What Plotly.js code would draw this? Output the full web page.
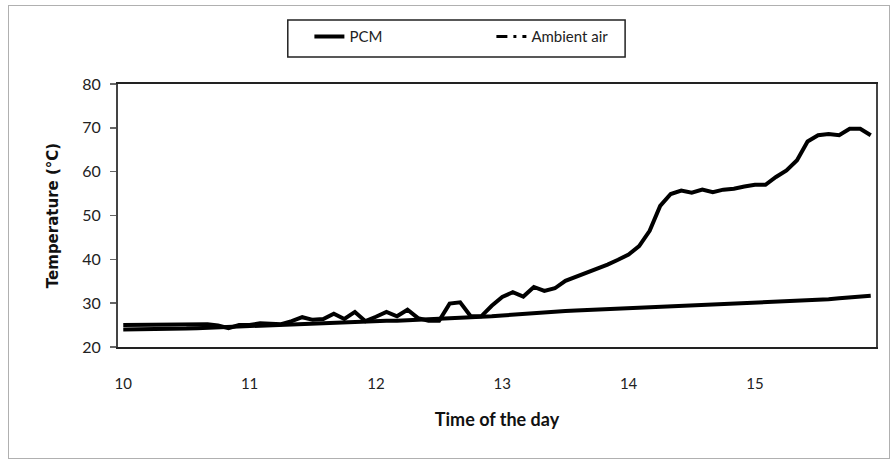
<!DOCTYPE html>
<html>
<head>
<meta charset="utf-8">
<script src="https://cdn.plot.ly/plotly-3.0.1.min.js"></script>
<style>
  html, body { margin: 0; padding: 0; background: #fff; }
  #wrap { position: relative; width: 894px; height: 461px; }
  #chart { position: absolute; left: 0; top: 0; width: 894px; height: 461px; }
  #frame { position: absolute; left: 8px; top: 5px; width: 880px; height: 452px;
           border: 1px solid #b0b0b0; pointer-events: none; }
</style>
</head>
<body>
<div id="wrap">
  <div id="chart"></div>
  <div id="frame"></div>
</div>
<script>
// Time of day in hours: one reading every 5 minutes from 10:00 to 15:55
const readingStepsMin = 5;
const startHour = 10;
const readingCount = 72;

// PCM temperature (°C)
const pcmTemp = [
  25.0, 25.0, 25.0, 25.0, 25.0, 25.1, 25.2, 25.2, 25.2, 24.9, 24.3, 25.0,
  25.0, 25.4, 25.4, 25.2, 25.9, 26.8, 26.2, 26.4, 27.6, 26.4, 28.0, 25.9,
  26.9, 28.0, 27.0, 28.5, 26.6, 26.0, 26.0, 29.9, 30.2, 27.0, 27.0, 29.4,
  31.4, 32.5, 31.5, 33.7, 32.8, 33.4, 35.1, 36.0, 37.1, 38.0, 38.8, 39.9,
  41.1, 43.0, 46.5, 52.2, 54.9, 55.7, 55.2, 55.9, 55.3, 55.9, 56.1, 56.6,
  57.0, 57.0, 58.8, 60.3, 62.6, 66.9, 68.3, 68.6, 68.3, 69.8, 69.8, 68.3
];

// Ambient air temperature (°C)
const ambientTemp = [
  24.0, 24.0, 24.0, 24.0, 24.0, 24.1, 24.2, 24.3, 24.4, 24.5, 24.6, 24.8,
  24.9, 25.0, 25.0, 25.1, 25.2, 25.3, 25.4, 25.4, 25.5, 25.6, 25.7, 25.8,
  25.9, 26.0, 26.0, 26.1, 26.2, 26.2, 26.3, 26.4, 26.5, 26.7, 26.9, 27.0,
  27.2, 27.4, 27.5, 27.7, 27.9, 28.1, 28.2, 28.3, 28.4, 28.5, 28.6, 28.7,
  28.9, 29.0, 29.1, 29.2, 29.3, 29.4, 29.5, 29.6, 29.7, 29.8, 29.9, 30.0,
  30.2, 30.3, 30.4, 30.5, 30.6, 30.7, 30.8, 30.9, 31.1, 31.3, 31.5, 31.7
];

const xTickVals = [10, 11, 12, 13, 14, 15];
const xTickText = ["10", "11", "12", "13", "14", "15"];
const yTickVals = [20, 30, 40, 50, 60, 70, 80];

const timeOfDay = [];
for (let i = 0; i < readingCount; i++) timeOfDay.push(startHour + i * readingStepsMin / 60);

const halfStep = readingStepsMin / 120;

const traces = [
  { x: timeOfDay, y: pcmTemp, name: "PCM", type: "scatter", mode: "lines",
    line: { color: "#000", width: 4 }, showlegend: true },
  { x: timeOfDay, y: ambientTemp, name: "Ambient air", type: "scatter", mode: "lines",
    line: { color: "#000", width: 4 }, showlegend: false },
  // legend entry for ambient air (drawn dash-dot in the legend only)
  { x: [null], y: [null], name: "Ambient air", type: "scatter", mode: "lines",
    line: { color: "#000", width: 3, dash: "11px,6px,3px,6px" }, showlegend: true }
];

const layout = {
  width: 894, height: 461,
  margin: { l: 118, r: 18, t: 84, b: 114 },
  paper_bgcolor: "#fff", plot_bgcolor: "#fff",
  font: { family: "Lato, 'Open Sans', sans-serif", color: "#222", size: 15 },
  showlegend: true,
  legend: {
    orientation: "h", x: 0.2525, y: 1.242, xanchor: "left", yanchor: "top",
    bgcolor: "rgba(0,0,0,0)", borderwidth: 0,
    font: { family: "Lato, sans-serif", size: 15, color: "#222" },
    entrywidth: 137, entrywidthmode: "pixels"
  },
  shapes: [
    { type: "rect", xref: "paper", yref: "paper", x0: 0.224, x1: 0.669, y0: 1.103, y1: 1.243,
      line: { color: "#222", width: 1.5 }, fillcolor: "rgba(0,0,0,0)" }
  ],
  xaxis: {
    range: [startHour - halfStep, startHour + readingCount * readingStepsMin / 60 - halfStep],
    tickvals: xTickVals, ticktext: xTickText,
    ticks: "", showgrid: false, zeroline: false,
    showline: true, linecolor: "#222", linewidth: 2, mirror: true,
    ticklabelstandoff: 22,
    tickfont: { family: "Lato, sans-serif", size: 15, color: "#222" },
    title: { text: "<b>Time of the day</b>", standoff: 22,
             font: { family: "Lato, sans-serif", size: 18, color: "#111" } }
  },
  yaxis: {
    range: [20, 80], tickvals: yTickVals,
    ticks: "outside", ticklen: 6, tickcolor: "#666", tickwidth: 1.5,
    showgrid: false, zeroline: false,
    showline: true, linecolor: "#444", linewidth: 2, mirror: true,
    ticklabelstandoff: 6,
    tickfont: { family: "Lato, sans-serif", size: 16, color: "#222" },
    title: { text: "<b>Temperature (°C)</b>", standoff: 20,
             font: { family: "'DejaVu Sans', sans-serif", size: 15, color: "#111" } }
  }
};

Plotly.newPlot("chart", traces, layout, { displayModeBar: false, staticPlot: true });
</script>
</body>
</html>
